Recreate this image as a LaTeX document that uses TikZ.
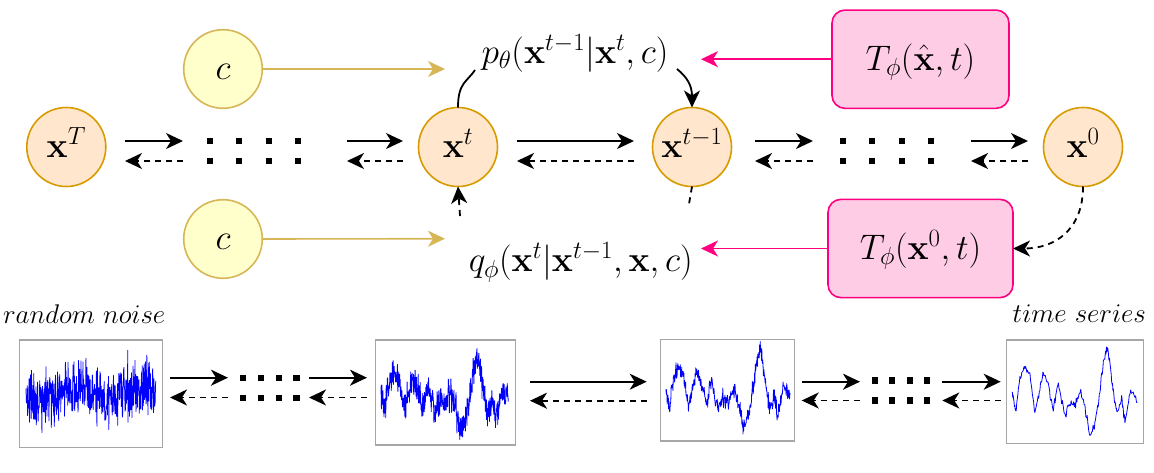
\RequirePackage{fix-cm}
\documentclass[tikz,border=0pt]{standalone}
\usetikzlibrary{arrows.meta}
\definecolor{orfill}{HTML}{FFE6CC}
\definecolor{orline}{HTML}{D79B00}
\definecolor{yefill}{HTML}{FFFFCC}
\definecolor{yeline}{HTML}{D6B656}
\definecolor{pkfill}{HTML}{FFCCE6}
\definecolor{pkline}{HTML}{FF0080}
\definecolor{boxline}{HTML}{A6A6A6}
\newcommand\bigfont{\fontsize{35.5}{42}\selectfont}
\newcommand\midfont{\fontsize{27}{32}\selectfont}
\newcommand\shapelist{0.027/-1.1, 0.061/1.0, 0.101/1.7, 0.141/1.2, 0.181/-1.0, 0.221/0.4, 0.248/1.5, 0.288/0.6, 0.328/-0.8, 0.368/0.8, 0.421/-1.3, 0.461/-0.4, 0.501/-0.7, 0.541/0.3, 0.595/-1.2, 0.621/-2.5, 0.661/-1.8, 0.696/0, 0.733/2.1, 0.760/3.0, 0.795/1.0, 0.821/-0.4, 0.840/-1.2, 0.875/-0.2, 0.901/-1.7, 0.947/0.3, 1.0/-0.3}
% #1 name prefix, #2 x left, #3 x right, #4 y solid, #5 y dashed
\newcommand\fwdback[5]{%
  \coordinate (#1s1) at (#2,#4); \coordinate (#1s2) at (#3,#4);
  \coordinate (#1d1) at (#3,#5); \coordinate (#1d2) at (#2,#5);
  \draw[fwd] (#1s1) -- (#1s2);
  \draw[bwd] (#1d1) -- (#1d2);}
% #1 x left, #2 y row1, #3 y row2, #4 spacing
\newcommand\dotgroup[4]{%
  \foreach \k in {0,1,2,3}{%
    \fill ({#1+\k*#4-3.1},{#2-3.1}) rectangle ({#1+\k*#4+3.1},{#2+3.1});
    \fill ({#1+\k*#4-3.1},{#3-3.1}) rectangle ({#1+\k*#4+3.1},{#3+3.1});}}
% #1 x left, #2 width, #3 y centre, #4 amplitude, #5 noise, #6 steps
\newcommand\signal[6]{%
  \draw[sig] (#1,{#3-#4*0.2})
    \foreach \u/\v [remember=\u as \pu (initially 0), remember=\v as \pv (initially 0.2)] in \shapelist {
      \foreach \j in {1,...,#6} {
        -- ({#1+#2*(\pu+(\u-\pu)*\j/#6)},{#3-#4*(\pv+(\v-\pv)*\j/#6)+#5*(rand+rand+rand)})
      }
    };}
\begin{document}
\begin{tikzpicture}[x=1pt,y=-1pt,
  every node/.style={inner sep=0pt, outer sep=0pt},
  state/.style={circle, draw=orline, fill=orfill, line width=1.6pt, minimum size=79pt, text height=20pt, text depth=0pt, font=\bigfont},
  cond/.style={circle, draw=yeline, fill=yefill, line width=1.6pt, minimum size=78.6pt, text height=20pt, text depth=0pt, font=\bigfont},
  tbox/.style={rectangle, rounded corners=13pt, draw=pkline, fill=pkfill, line width=1.6pt, minimum height=98.3pt, text height=21.6pt, text depth=0pt, font=\bigfont},
  lab/.style={anchor=base, font=\bigfont},
  captext/.style={anchor=base, font=\midfont},
  pbox/.style={rectangle, draw=boxline, fill=white, line width=1.2pt},
  tip/.style={-{Stealth[length=17pt,width=16pt,inset=5pt]}},
  fwd/.style={line width=1.8pt, tip},
  bwd/.style={fwd, dash pattern=on 6pt off 5pt},
  conn/.style={line width=1.8pt},
  dconn/.style={line width=1.8pt, dash pattern=on 6pt off 5pt},
  ye/.style={draw=yeline, line width=1.6pt, tip},
  pk/.style={draw=pkline, line width=1.6pt, tip},
  sig/.style={draw=blue, line width=0.8pt, line join=round}
]
\useasboundingbox (0,0) rectangle (1154,472);
\pgfmathsetseed{7}

% ---- top: states
\node[state] (xT) at (66.3,147) {$\mathbf{x}^T$};
\node[state] (xt) at (458,147) {$\mathbf{x}^t$};
\node[state] (xt1) at (692,147) {$\mathbf{x}^{t-1}$};
\node[state] (x0) at (1083,147) {$\mathbf{x}^0$};
\node[cond] (c1) at (223,69) {$c$};
\node[cond] (c2) at (223,239) {$c$};
\node[tbox, minimum width=177pt] (ta) at (920.5,59.2) {$T_\phi(\hat{\mathbf{x}},t)$};
\node[tbox, minimum width=185pt] (tb) at (920.5,248.5) {$T_\phi(\mathbf{x}^0,t)$};
\node[lab] (pl) at (575,63.3) {$p_\theta(\mathbf{x}^{t-1}|\mathbf{x}^t,c)$};
\node[lab] (ql) at (580.8,271.7) {$q_\phi(\mathbf{x}^t|\mathbf{x}^{t-1},\mathbf{x},c)$};

% ---- top arrows
\fwdback{a1}{125}{183}{141}{161}
\fwdback{a2}{347}{403}{141}{161}
\fwdback{a3}{517}{634}{141}{161}
\fwdback{a4}{755}{813}{141}{161}
\fwdback{a5}{971}{1028}{141}{161}
\dotgroup{210}{141}{161}{29.3}
\dotgroup{843}{141}{161}{29.3}

% ---- condition and transformer arrows
\coordinate (ya) at (445,69);
\coordinate (yb) at (445,238.7);
\draw[ye] (c1.east) -- (ya);
\draw[ye] (c2.east) -- (yb);
\coordinate (pa) at (701,59.2);
\coordinate (pb) at (701,248.5);
\draw[pk] (ta.west) -- (pa);
\draw[pk] (tb.west) -- (pb);

% ---- curved connectors
\coordinate (pin) at (475,70);
\coordinate (pout) at (677,69);
\draw[conn] (xt.north) .. controls +(0,-25) and +(-8,12) .. (pin);
\draw[conn, tip] (pout) .. controls +(10,8) and +(0,-22) .. (xt1.north);
\coordinate (qa) at (689,204);
\coordinate (qb) at (460,216);
\draw[dconn] (xt1.south) -- (qa);
\draw[dconn, tip] (qb) -- (xt.south);
\draw[dconn, tip] (x0.south) .. controls +(0,45) and +(40,0) .. (tb.east);

% ---- bottom: captions and plots
\node[captext] (rn) at (84.2,323) {$random\ noise$};
\node[captext] (ts) at (1079.3,322.7) {$time\ series$};
\node[pbox, minimum width=143pt, minimum height=107.7pt] (b1) at (90.8,393.85) {};
\node[pbox, minimum width=139.6pt, minimum height=105pt] (b2) at (445.5,392.5) {};
\node[pbox, minimum width=134pt, minimum height=101.7pt] (b3) at (727.7,390.15) {};
\node[pbox, minimum width=136.6pt, minimum height=103.3pt] (b4) at (1075,391.65) {};

\draw[sig, line width=0.75pt] plot[domain=0:1, samples=480, variable=\t] ({26+130*\t}, {392 + 14*(rand+rand+rand) + 6*sin(760*\t)});
\signal{381}{127.3}{396.7}{12.5}{7.5}{20}
\signal{666}{124}{392}{14.5}{4.2}{14}
\signal{1012.3}{125}{395}{16.2}{2.2}{8}

% ---- bottom arrows
\fwdback{b1a}{170}{228}{377.7}{397.5}
\fwdback{b2a}{309}{367}{377.7}{397.5}
\fwdback{b3a}{530}{646.7}{381.7}{400.7}
\fwdback{b4a}{801.7}{860}{381.7}{400.5}
\fwdback{b5a}{942.3}{1000.7}{381.7}{400.5}
\dotgroup{243.3}{377.7}{398.2}{17.7}
\dotgroup{874.7}{380.5}{400.5}{17.5}
\end{tikzpicture}
\end{document}
